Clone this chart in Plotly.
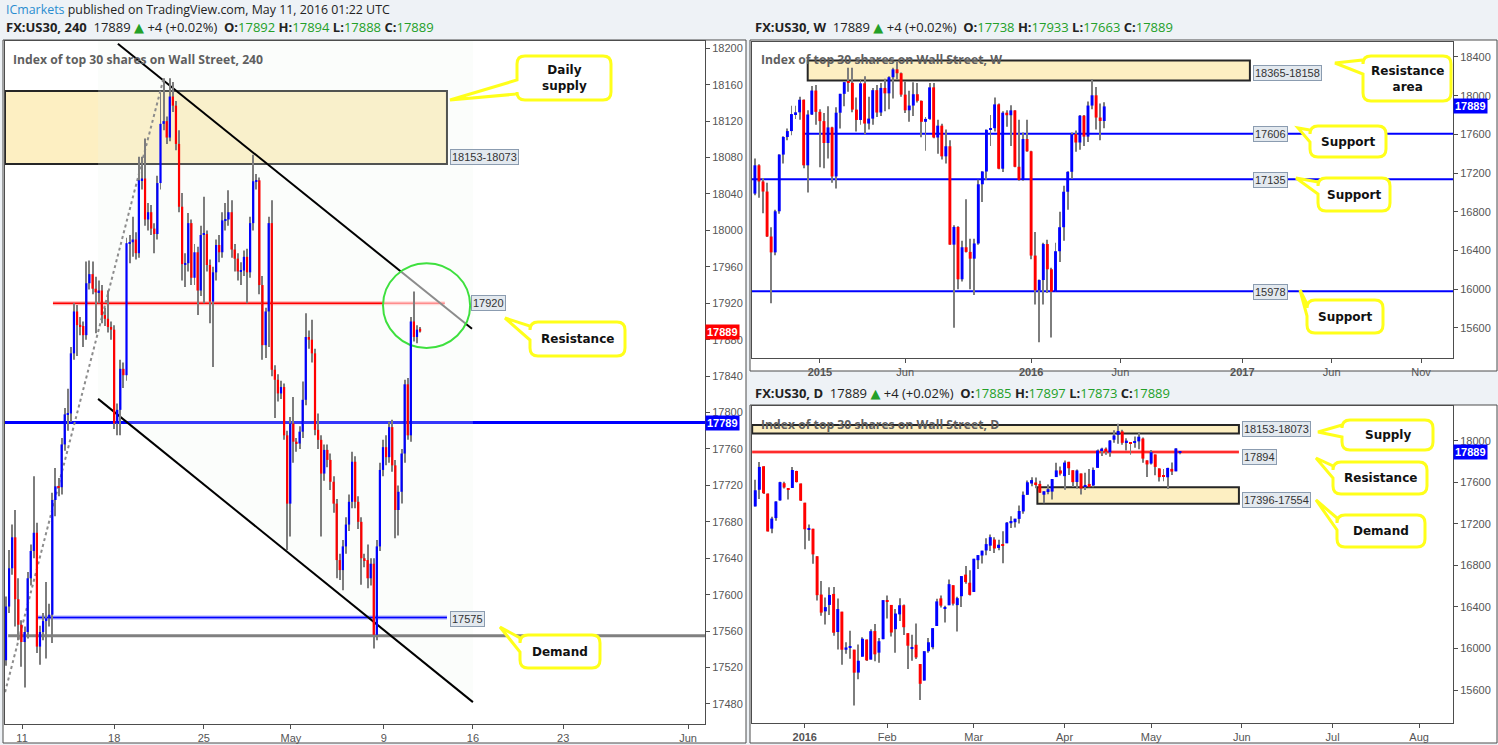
import plotly.graph_objects as go

W, H = 1498, 745

# ---------------- 4H panel data (FX:US30, 240) ----------------
h4_open = [17528,17587,17629,17663,17595,17567,17548,17559,17618,17648,17668,17543,17559,17571,17574,17578,17704,17719,17718,17765,
           17798,17799,17865,17911,17896,17895,17885,17942,17952,17936,17932,17934,17907,17903,17894,17891,17788,17803,17848,17841,
           17986,17987,17990,17975,18055,18057,18012,18020,18002,17996,18052,18117,18120,18102,18147,18137,18095,18026,17963,17964,
           18008,17948,17976,17934,17995,17996,17962,17922,17954,17984,17976,18011,18012,18020,17979,17969,17955,17956,17971,17954,
           18008,18054,18055,17940,17874,17911,18008,17847,17836,17821,17828,17775,17700,17788,17768,17766,17779,17814,17883,17880,
           17865,17781,17770,17733,17759,17748,17724,17700,17638,17627,17653,17677,17702,17746,17702,17680,17640,17638,17618,17634,
           17556,17653,17737,17762,17751,17784,17742,17693,17713,17755,17831,17775,17900,17883,17892]
h4_high = [17598,17649,17677,17693,17618,17572,17565,17625,17655,17730,17679,17566,17580,17614,17590,17712,17739,17728,17772,17805,
           17826,17872,17920,17918,17905,17900,17966,17967,17966,17949,17945,17940,17915,17934,17900,17896,17810,17858,17855,17992,
           17995,18015,17998,18081,18081,18101,18030,18028,18008,18060,18151,18167,18125,18167,18163,18142,18110,18041,17975,18019,
           18012,17985,17982,18005,18037,18000,17968,17960,17990,17995,18020,18030,18044,18033,17985,17975,17965,17978,17980,18015,
           18083,18062,18058,17950,17915,18015,18033,17852,17842,17835,17832,17780,17795,17817,17772,17785,17834,17909,17890,17902,
           17870,17799,17775,17765,17765,17755,17730,17705,17645,17660,17685,17710,17757,17752,17708,17685,17645,17655,17640,17640,
           17660,17745,17770,17775,17790,17792,17748,17720,17760,17836,17838,17905,17933,17896,17894]
h4_low = [17522,17580,17622,17565,17550,17521,17498,17552,17610,17640,17536,17523,17550,17530,17565,17547,17686,17708,17710,17758,
          17780,17790,17858,17862,17885,17872,17880,17935,17930,17887,17920,17898,17895,17888,17880,17782,17775,17775,17827,17835,
          17964,17971,17968,17970,18045,18005,18000,17995,17975,17990,18045,18110,18095,18098,18130,18088,18020,17945,17938,17955,
          17940,17940,17907,17928,17920,17955,17898,17850,17945,17965,17970,18000,18005,17970,17955,17945,17940,17950,17920,17948,
          18000,18045,17930,17858,17860,17872,17840,17794,17812,17815,17770,17649,17664,17745,17757,17760,17772,17808,17870,17855,
          17775,17760,17664,17725,17740,17715,17690,17618,17616,17605,17645,17670,17695,17695,17672,17611,17630,17607,17610,17541,
          17550,17648,17730,17742,17745,17735,17662,17665,17700,17745,17770,17768,17878,17876,17888]
h4_close = [17587,17629,17663,17595,17567,17548,17559,17618,17648,17668,17543,17559,17571,17574,17578,17704,17719,17718,17765,17798,
            17799,17865,17911,17896,17895,17885,17942,17952,17936,17932,17934,17907,17903,17894,17891,17788,17803,17848,17841,17986,
            17987,17990,17975,18055,18057,18012,18020,18002,17996,18052,18117,18120,18102,18147,18137,18095,18026,17963,17964,18008,
            17948,17976,17934,17995,17996,17962,17922,17954,17984,17976,18011,18012,18020,17979,17969,17955,17956,17971,17954,18008,
            18054,18055,17940,17874,17911,18008,17847,17836,17821,17828,17775,17700,17788,17768,17766,17779,17814,17883,17880,17865,
            17781,17770,17733,17759,17748,17724,17700,17638,17627,17653,17677,17702,17746,17702,17680,17640,17638,17618,17634,17556,
            17653,17737,17762,17751,17784,17742,17693,17713,17755,17831,17775,17900,17883,17891,17889]
h4_tick_text = ["11", "18", "25", "May", "9", "16", "23", "Jun"]
h4_supply = [18073, 18153]
h4_resistance = 17920
h4_blue_level = 17789
h4_demand_line = 17575
h4_grey_level = 17555
h4_channel_upper = [(36.2, 18205), (150.8, 17892)]
h4_channel_lower = [(29.8, 17815), (151.1, 17482)]
h4_dotted = [(-0.3, 17493), (51, 18167)]

# ---------------- Weekly panel data ----------------
w_dates = ["2014-09-15","2014-09-22","2014-09-29","2014-10-06","2014-10-13","2014-10-20","2014-10-27","2014-11-03","2014-11-10","2014-11-17",
           "2014-11-24","2014-12-01","2014-12-08","2014-12-15","2014-12-22","2014-12-29","2015-01-05","2015-01-12","2015-01-19","2015-01-26",
           "2015-02-02","2015-02-09","2015-02-16","2015-02-23","2015-03-02","2015-03-09","2015-03-16","2015-03-23","2015-03-30","2015-04-06",
           "2015-04-13","2015-04-20","2015-04-27","2015-05-04","2015-05-11","2015-05-18","2015-05-25","2015-06-01","2015-06-08","2015-06-15",
           "2015-06-22","2015-06-29","2015-07-06","2015-07-13","2015-07-20","2015-07-27","2015-08-03","2015-08-10","2015-08-17","2015-08-24",
           "2015-08-31","2015-09-07","2015-09-14","2015-09-21","2015-09-28","2015-10-05","2015-10-12","2015-10-19","2015-10-26","2015-11-02",
           "2015-11-09","2015-11-16","2015-11-23","2015-11-30","2015-12-07","2015-12-14","2015-12-21","2015-12-28","2016-01-04","2016-01-11",
           "2016-01-18","2016-01-25","2016-02-01","2016-02-08","2016-02-15","2016-02-22","2016-02-29","2016-03-07","2016-03-14","2016-03-21",
           "2016-03-28","2016-04-04","2016-04-11","2016-04-18","2016-04-25","2016-05-02","2016-05-09"]
w_open = [16988,17280,17113,17009,16544,16380,16805,17391,17573,17634,17810,17828,17958,17280,17805,18053,17833,17737,17511,17672,
          17165,17824,18019,18140,18133,17856,17749,18128,17712,17763,18057,17826,18080,18024,18191,18272,18232,18011,17849,17898,
          18015,17947,17730,17760,18086,17568,17690,17373,17477,16460,16643,16102,16433,16385,16315,16472,17084,17216,17647,17664,
          17910,17245,17824,17798,17848,17265,17128,17552,17425,16347,15988,16094,16466,16205,15974,16392,16640,17007,17213,17602,
          17516,17793,17577,17898,18004,17774,17738]
w_high = [17350,17290,17150,17100,16640,16820,17395,17580,17660,17895,17895,17990,17960,17850,18100,18110,17860,17820,17890,17680,
          17880,18020,18140,18290,18290,17980,18170,18200,17990,18080,18110,18130,18175,18200,18290,18350,18240,18150,18050,18140,
          18130,17950,17780,18130,18130,17750,17710,17650,17540,16660,16650,16500,16930,16520,16520,17130,17220,17650,17800,17980,
          17920,17840,17850,17900,17850,17750,17620,17750,17430,16590,16100,16480,16510,16220,16480,16800,17070,17220,17620,17640,
          17800,17800,17940,18170,18090,17920,17933]
w_low = [16970,16945,16784,16540,15855,16350,16780,17300,17540,17590,17760,17750,17250,17000,17800,17700,17260,17250,17350,17100,
         17040,17660,17890,18040,17830,17630,17700,17600,17650,17700,17780,17790,17840,17860,17970,18170,17990,17820,17730,17790,
         17930,17570,17430,17750,17560,17400,17340,17300,16460,15600,16000,16080,16380,16000,15940,16460,16900,17130,17480,17630,
         17240,17210,17680,17480,17260,17120,17120,17420,16310,15840,15450,15840,15960,15500,15970,16280,16500,16820,17140,17420,
         17440,17480,17520,17860,17650,17540,17663]
w_close = [17280,17113,17009,16544,16380,16805,17391,17573,17634,17810,17828,17958,17280,17805,18053,17833,17737,17511,17672,17165,
           17824,18019,18140,18133,17856,17749,18128,17712,17763,18057,17826,18080,18024,18191,18272,18232,18011,17849,17898,18015,
           17947,17730,17760,18086,17568,17690,17373,17477,16460,16643,16102,16433,16385,16315,16472,17084,17216,17647,17664,17910,
           17245,17824,17798,17848,17265,17128,17552,17425,16347,15988,16094,16466,16205,15974,16392,16640,17007,17213,17602,17516,
           17793,17577,17898,18004,17774,17738,17889]
w_tick_dates = ["2015-01-05","2015-06-01","2016-01-04","2016-06-06","2017-01-02","2017-06-05","2017-11-06"]
w_tick_text = ["<b>2015</b>","Jun","<b>2016</b>","Jun","<b>2017</b>","Jun","Nov"]
w_resistance_area = [18158, 18365]
w_supports = [17606, 17135, 15978]

# ---------------- Daily panel data ----------------
d_dates = ["2015-12-15","2015-12-16","2015-12-17","2015-12-18","2015-12-21","2015-12-22","2015-12-23","2015-12-24","2015-12-28","2015-12-29","2015-12-30","2015-12-31",
           "2016-01-04","2016-01-05","2016-01-06","2016-01-07","2016-01-08","2016-01-11","2016-01-12","2016-01-13","2016-01-14","2016-01-15",
           "2016-01-18","2016-01-19","2016-01-20","2016-01-21","2016-01-22","2016-01-25","2016-01-26","2016-01-27","2016-01-28","2016-01-29",
           "2016-02-01","2016-02-02","2016-02-03","2016-02-04","2016-02-05","2016-02-08","2016-02-09","2016-02-10","2016-02-11","2016-02-12",
           "2016-02-15","2016-02-16","2016-02-17","2016-02-18","2016-02-19","2016-02-22","2016-02-23","2016-02-24","2016-02-25","2016-02-26","2016-02-29",
           "2016-03-01","2016-03-02","2016-03-03","2016-03-04","2016-03-07","2016-03-08","2016-03-09","2016-03-10","2016-03-11","2016-03-14","2016-03-15",
           "2016-03-16","2016-03-17","2016-03-18","2016-03-21","2016-03-22","2016-03-23","2016-03-24","2016-03-28","2016-03-29","2016-03-30","2016-03-31",
           "2016-04-01","2016-04-04","2016-04-05","2016-04-06","2016-04-07","2016-04-08","2016-04-11","2016-04-12","2016-04-13","2016-04-14","2016-04-15",
           "2016-04-18","2016-04-19","2016-04-20","2016-04-21","2016-04-22","2016-04-25","2016-04-26","2016-04-27","2016-04-28","2016-04-29",
           "2016-05-02","2016-05-03","2016-05-04","2016-05-05","2016-05-06","2016-05-09","2016-05-10","2016-05-11"]
d_open = [17369,17530,17756,17493,17155,17257,17427,17593,17536,17547,17711,17590,
          17405,17147,17154,16889,16520,16358,16420,16526,16159,16355,15988,16009,15989,15768,15921,16086,15893,16168,15960,16090,
          16451,16420,16186,16329,16417,16148,15997,16036,15850,15691,15974,16012,16217,16483,16389,16417,16610,16418,16504,16712,16634,
          16545,16851,16896,16945,16991,17050,16969,17006,17014,17207,17217,17249,17321,17481,17590,17600,17586,17482,17516,17512,17652,17716,
          17661,17799,17718,17605,17687,17555,17586,17571,17741,17912,17925,17890,18012,18059,18092,17985,17990,17987,17996,18023,17813,
          17783,17870,17735,17665,17650,17731,17707,17885]
d_high = [17627,17797,17756,17493,17270,17420,17608,17606,17536,17750,17714,17590,
          17405,17195,17154,16889,16651,16491,16591,16593,16482,16355,16060,16171,15989,16038,16109,16086,16185,16235,16102,16466,
          16510,16420,16381,16485,16423,16148,16133,16242,15850,15974,16100,16196,16480,16511,16413,16664,16610,16499,16698,16795,16754,
          16865,16900,16943,17062,17099,17072,17048,17130,17220,17275,17251,17379,17513,17620,17650,17649,17616,17515,17580,17633,17790,17755,
          17811,17799,17718,17725,17687,17694,17731,17744,17918,17934,17937,18009,18103,18167,18107,18026,17990,18043,18084,18033,17813,
          17914,17870,17736,17729,17741,17792,17929,17897]
d_low = [17369,17440,17490,17128,17110,17230,17425,17543,17437,17547,17599,17421,
         16957,17039,16817,16463,16315,16232,16322,16123,15991,15843,15950,15900,15450,15704,15921,15880,15893,15878,15863,16090,
         16289,16115,15960,16266,16129,15803,15881,15899,15503,15691,15960,15993,16217,16394,16250,16417,16414,16165,16401,16623,16510,
         16545,16766,16820,16898,16940,16921,16947,16821,17014,17161,17165,17204,17298,17481,17564,17545,17498,17400,17486,17437,17652,17668,
         17530,17673,17556,17542,17484,17528,17555,17553,17741,17856,17867,17848,17984,17974,17963,17909,17866,17934,17920,17791,17652,
         17773,17670,17609,17611,17536,17672,17707,17873]
d_close = [17525,17750,17495,17128,17252,17417,17603,17552,17528,17720,17603,17425,
           17149,17158,16907,16514,16346,16399,16516,16152,16380,15988,16010,16016,15767,15882,16094,15886,16167,15944,16070,16466,
           16449,16154,16337,16417,16205,16027,16014,15914,15660,15974,16060,16196,16454,16413,16392,16620,16432,16485,16698,16640,16517,
           16865,16900,16943,17006,17073,16964,17000,16995,17213,17229,17251,17325,17481,17602,17623,17582,17502,17515,17535,17633,17716,17685,
           17792,17737,17603,17716,17541,17576,17556,17721,17908,17926,17897,18004,18053,18096,17982,18003,17977,17990,18041,17830,17774,
           17891,17750,17651,17660,17740,17705,17928,17889]
d_tick_dates = ["2016-01-04","2016-02-01","2016-03-01","2016-04-01","2016-05-02","2016-06-01","2016-07-01","2016-08-01"]
d_tick_text = ["<b>2016</b>","Feb","Mar","Apr","May","Jun","Jul","Aug"]
d_supply = [18073, 18153]
d_resistance = 17894
d_demand = [17396, 17554]
last_price = 17889

# ---------------- helpers ----------------
def PX(x):
    return x / W

def PY(y):
    return 1 - y / H

BLUE = "#0000ff"
RED = "#ff0000"
WICK = "#7d7d7d"
AXIS_FONT = dict(family="Liberation Sans, Arial", size=11, color="#555555")

fig = go.Figure()


def add_candles(x, o, h, l, c, xa, ya, body_w, wick_w, min_body):
    cols = [BLUE if cc >= oo else RED for oo, cc in zip(o, c)]
    fig.add_trace(go.Bar(x=x, y=[hh - ll for hh, ll in zip(h, l)], base=l, width=wick_w,
                         marker=dict(color=WICK, line=dict(width=0)), xaxis=xa, yaxis=ya,
                         hoverinfo="skip", showlegend=False))
    fig.add_trace(go.Bar(x=x, y=[max(abs(cc - oo), min_body) for oo, cc in zip(o, c)],
                         base=[min(oo, cc) for oo, cc in zip(o, c)], width=body_w,
                         marker=dict(color=cols, line=dict(width=0)), xaxis=xa, yaxis=ya,
                         hoverinfo="skip", showlegend=False))


h4_x = list(range(len(h4_close)))
add_candles(h4_x, h4_open, h4_high, h4_low, h4_close, "x", "y", 0.72, 0.32, 1.3)
DAY = 86400000
add_candles(w_dates, w_open, w_high, w_low, w_close, "x2", "y2", 5.0 * DAY, 1.6 * DAY, 10)
add_candles(d_dates, d_open, d_high, d_low, d_close, "x3", "y3", 0.72 * DAY, 0.24 * DAY, 10)

shapes = []
annotations = []

# panel backgrounds
for (x0, y0, x1, y1) in [(3, 40, 746, 743), (750, 40, 1497, 371), (750, 405, 1497, 743)]:
    shapes.append(dict(type="rect", xref="paper", yref="paper", x0=PX(x0), x1=PX(x1), y0=PY(y1), y1=PY(y0),
                       fillcolor="white", line=dict(color="#4d4d4d", width=1), layer="below"))

# ---- 4H drawings ----
h4_box_end = 142.7
shapes.append(dict(type="path", xref="x", yref="y",
                   path=f"M {h4_channel_lower[0][0]},18210 L {h4_channel_lower[1][0]},18210 L {h4_channel_lower[1][0]},{h4_channel_lower[1][1]} L {h4_channel_lower[0][0]},{h4_channel_lower[0][1]} Z",
                   fillcolor="rgba(236,244,236,0.22)", line=dict(width=0), layer="below"))
shapes.append(dict(type="rect", xref="x domain", yref="y", x0=0, x1=(h4_box_end + 0.32) / 226.52, y0=h4_supply[0], y1=h4_supply[1],
                   fillcolor="#fdefc2", line=dict(color="#262626", width=2), layer="below"))
shapes.append(dict(type="line", xref="x", yref="y", x0=15.2, x1=142, y0=h4_resistance, y1=h4_resistance,
                   line=dict(color="rgba(255,80,80,0.45)", width=4), layer="below"))
shapes.append(dict(type="line", xref="x", yref="y", x0=15.2, x1=142, y0=h4_resistance, y1=h4_resistance,
                   line=dict(color=RED, width=1.5), layer="below"))
shapes.append(dict(type="line", xref="x domain", yref="y", x0=0, x1=1, y0=h4_blue_level, y1=h4_blue_level,
                   line=dict(color=BLUE, width=3), layer="below"))
shapes.append(dict(type="line", xref="x", yref="y", x0=10.4, x1=h4_box_end, y0=h4_demand_line, y1=h4_demand_line,
                   line=dict(color="rgba(60,60,255,0.45)", width=4), layer="below"))
shapes.append(dict(type="line", xref="x", yref="y", x0=10.4, x1=h4_box_end, y0=h4_demand_line, y1=h4_demand_line,
                   line=dict(color=BLUE, width=1.5), layer="below"))
shapes.append(dict(type="line", xref="x", yref="y", x0=0.7, x1=226.2, y0=h4_grey_level, y1=h4_grey_level,
                   line=dict(color="#808080", width=3), layer="below"))
for seg in (h4_channel_upper, h4_channel_lower):
    shapes.append(dict(type="line", xref="x", yref="y", x0=seg[0][0], y0=seg[0][1], x1=seg[1][0], y1=seg[1][1],
                       line=dict(color="#000000", width=2), layer="below"))
shapes.append(dict(type="line", xref="x", yref="y", x0=h4_dotted[0][0], y0=h4_dotted[0][1], x1=h4_dotted[1][0], y1=h4_dotted[1][1],
                   line=dict(color="#8c8c8c", width=2, dash="dot"), layer="below"))
shapes.append(dict(type="circle", xref="x", yref="y", x0=122, x1=150.2, y0=17871, y1=17964,
                   fillcolor="rgba(255,255,255,0.55)", line=dict(color="#3ee03e", width=2), layer="below"))

# ---- Weekly drawings ----
shapes.append(dict(type="rect", xref="x2", yref="y2", x0="2014-12-15", x1="2017-01-15", y0=w_resistance_area[0], y1=w_resistance_area[1],
                   fillcolor="#fdefc2", line=dict(color="#262626", width=2), layer="below"))
shapes.append(dict(type="line", xref="x2", yref="y2", x0="2014-12-10", x1="2017-12-31", y0=w_supports[0], y1=w_supports[0],
                   line=dict(color=BLUE, width=2), layer="below"))
for lv in w_supports[1:]:
    shapes.append(dict(type="line", xref="x2 domain", yref="y2", x0=0, x1=1, y0=lv, y1=lv,
                       line=dict(color=BLUE, width=2), layer="below"))

# ---- Daily drawings ----
shapes.append(dict(type="rect", xref="x3", yref="y3", x0="2015-12-14 06:00", x1="2016-05-31 07:00", y0=d_supply[0], y1=d_supply[1],
                   fillcolor="#fdefc2", line=dict(color="#262626", width=2), layer="below"))
shapes.append(dict(type="line", xref="x3", yref="y3", x0="2015-12-14 06:00", x1="2016-05-31 07:00", y0=d_resistance, y1=d_resistance,
                   line=dict(color="rgba(255,80,80,0.45)", width=4), layer="below"))
shapes.append(dict(type="line", xref="x3", yref="y3", x0="2015-12-14 06:00", x1="2016-05-31 07:00", y0=d_resistance, y1=d_resistance,
                   line=dict(color=RED, width=1.5), layer="below"))
shapes.append(dict(type="rect", xref="x3", yref="y3", x0="2016-03-22 10:00", x1="2016-05-31 07:00", y0=d_demand[0], y1=d_demand[1],
                   fillcolor="#fdefc2", line=dict(color="#262626", width=2), layer="below"))

# ---- level tags ----
TAG = dict(showarrow=False, bgcolor="#e3e9ef", bordercolor="#8b9cb0", borderwidth=1, borderpad=1,
           font=dict(family="Liberation Sans, Arial", size=11, color="#333333"), xanchor="left", yanchor="middle")
annotations += [
    dict(xref="x", yref="y", x=143.6, y=18081, text=f"{h4_supply[1]}-{h4_supply[0]}", **TAG),
    dict(xref="x", yref="y", x=150.6, y=h4_resistance, text=f"{h4_resistance}", **TAG),
    dict(xref="x", yref="y", x=143.6, y=17573, text=f"{h4_demand_line}", **TAG),
    dict(xref="x2", yref="y2", x="2017-01-20", y=18230, text=f"{w_resistance_area[1]}-{w_resistance_area[0]}", **TAG),
    dict(xref="x2", yref="y2", x="2017-01-20", y=w_supports[0] - 5, text=f"{w_supports[0]}", **TAG),
    dict(xref="x2", yref="y2", x="2017-01-20", y=w_supports[1] - 5, text=f"{w_supports[1]}", **TAG),
    dict(xref="x2", yref="y2", x="2017-01-20", y=w_supports[2] - 5, text=f"{w_supports[2]}", **TAG),
    dict(xref="x3", yref="y3", x="2016-06-01", y=18113, text=f"{d_supply[1]}-{d_supply[0]}", **TAG),
    dict(xref="x3", yref="y3", x="2016-06-01", y=d_resistance - 50, text=f"{d_resistance}", **TAG),
    dict(xref="x3", yref="y3", x="2016-06-01", y=17430, text=f"{d_demand[0]}-{d_demand[1]}", **TAG),
]

# ---- axis price tags ----
PTAG = dict(showarrow=False, borderpad=1, font=dict(family="Liberation Sans, Arial", size=11, color="white"),
            xanchor="left", yanchor="middle", x=1.0)
annotations += [
    dict(xref="x domain", yref="y", y=last_price, text=f"<b>{last_price}</b>", bgcolor=RED, **PTAG),
    dict(xref="x domain", yref="y", y=h4_blue_level, text=f"<b>{h4_blue_level}</b>", bgcolor=BLUE, **PTAG),
    dict(xref="x2 domain", yref="y2", y=last_price, text=f"<b>{last_price}</b>", bgcolor=BLUE, **PTAG),
    dict(xref="x3 domain", yref="y3", y=last_price, text=f"<b>{last_price}</b>", bgcolor=BLUE, **PTAG),
]

# ---- titles / headers ----
G = "#23a028"
def hdr(sym, o, h, l, c):
    return (f"<b>{sym}</b>  17889 <span style='color:{G}'>▲</span> +4 (+0.02%)  "
            f"<b>O:</b><span style='color:{G}'>{o}</span> <b>H:</b><span style='color:{G}'>{h}</span> "
            f"<b>L:</b><span style='color:{G}'>{l}</span> <b>C:</b><span style='color:{G}'>{c}</span>")

HF = dict(family="Open Sans, DejaVu Sans", size=13, color="#222222")
HF1 = dict(family="Open Sans, DejaVu Sans", size=12.4, color="#222222")
annotations += [
    dict(xref="paper", yref="paper", x=PX(4), y=PY(10), xanchor="left", yanchor="middle", showarrow=False, font=HF1,
         text="<span style='color:#2a8dd0'>ICmarkets</span> published on TradingView.com, May 11, 2016 01:22 UTC"),
    dict(xref="paper", yref="paper", x=PX(4), y=PY(27), xanchor="left", yanchor="middle", showarrow=False, font=HF,
         text=hdr("FX:US30, 240", 17892, 17894, 17888, 17889)),
    dict(xref="paper", yref="paper", x=PX(753), y=PY(27), xanchor="left", yanchor="middle", showarrow=False, font=HF,
         text=hdr("FX:US30, W", 17738, 17933, 17663, 17889)),
    dict(xref="paper", yref="paper", x=PX(753), y=PY(393), xanchor="left", yanchor="middle", showarrow=False, font=HF,
         text=hdr("FX:US30, D", 17885, 17897, 17873, 17889)),
]
TF = dict(family="Open Sans, DejaVu Sans", size=12.2, color="#5f5f5f")
for (x, y, t) in [(11, 59, "Index of top 30 shares on Wall Street, 240"),
                  (759, 59, "Index of top 30 shares on Wall Street, W"),
                  (759, 424, "Index of top 30 shares on Wall Street, D")]:
    annotations.append(dict(xref="paper", yref="paper", x=PX(x), y=PY(y), xanchor="left", yanchor="middle",
                            showarrow=False, font=TF, text=f"<b>{t}</b>"))


# ---- callouts ----
def callout(box, tip, wedge, text):
    x0, y0, x1, y1 = box
    tx, ty = tip
    wa, wb = wedge
    r = 8
    def p(x, y):
        return f"{PX(x):.6f},{PY(y):.6f}"
    path = (f"M {p(x0 + r, y0)} L {p(x1 - r, y0)} Q {p(x1, y0)} {p(x1, y0 + r)} "
            f"L {p(x1, y1 - r)} Q {p(x1, y1)} {p(x1 - r, y1)} L {p(x0 + r, y1)} Q {p(x0, y1)} {p(x0, y1 - r)} "
            f"L {p(x0, wb)} L {p(tx, ty)} L {p(x0, wa)} L {p(x0, y0 + r)} Q {p(x0, y0)} {p(x0 + r, y0)} Z")
    shapes.append(dict(type="path", xref="paper", yref="paper", path=path, fillcolor="white",
                       line=dict(color="#ffff1a", width=3), layer="above"))
    annotations.append(dict(xref="paper", yref="paper", x=PX((x0 + x1) / 2), y=PY((y0 + y1) / 2),
                            xanchor="center", yanchor="middle", showarrow=False, text=f"<b>{text}</b>",
                            font=dict(family="DejaVu Sans", size=12, color="#111111")))


callout((517, 56, 611, 100), (450, 100), (80, 94), "Daily<br>supply")
callout((530, 322, 625, 356), (505, 318), (326, 340), "Resistance")
callout((520, 635, 600, 668), (500, 627), (638, 652), "Demand")
callout((1363, 56, 1451, 101), (1335, 63), (60, 74), "Resistance<br>area")
callout((1310, 126, 1386, 157), (1298, 128), (130, 142), "Support")
callout((1318, 178, 1390, 211), (1296, 178), (182, 194), "Support")
callout((1307, 300, 1383, 333), (1300, 290), (304, 316), "Support")
callout((1342, 420, 1433, 450), (1318, 432), (425, 437), "Supply")
callout((1333, 462, 1427, 494), (1316, 458), (466, 478), "Resistance")
callout((1337, 515, 1425, 547), (1316, 500), (518, 530), "Demand")

# ---- axes ----
def xax(domain, anchor, **kw):
    d = dict(domain=domain, anchor=anchor, showgrid=False, zeroline=False, showline=True, mirror=True,
             linecolor="#4d4d4d", linewidth=1, ticks="outside", ticklen=4, tickcolor="#4d4d4d",
             tickfont=AXIS_FONT, fixedrange=True)
    d.update(kw)
    return d

def yax(domain, anchor, rng, dtick):
    return dict(domain=domain, anchor=anchor, range=rng, side="right", dtick=dtick, showgrid=False, zeroline=False,
                showline=True, mirror=True, linecolor="#4d4d4d", linewidth=1, ticks="outside", ticklen=4,
                tickcolor="#4d4d4d", tickfont=AXIS_FONT, tickformat="d", fixedrange=True)

h4_tick_pos = [5.2, 35, 64, 92.2, 122.3, 151.1, 180.3, 220.7]

fig.update_layout(
    width=W, height=H, margin=dict(l=0, r=0, t=0, b=0),
    paper_bgcolor="#eef2f6", plot_bgcolor="white", barmode="overlay", showlegend=False,
    xaxis=xax([PX(5), PX(705)], "y", range=[-0.32, 226.2], tickmode="array", tickvals=h4_tick_pos, ticktext=h4_tick_text),
    yaxis=yax([PY(724), PY(41)], "x", [17458, 18208], 40),
    xaxis2=xax([PX(752), PX(1453)], "y2", type="date", range=["2014-09-10", "2017-12-31"], tickmode="array",
               tickvals=w_tick_dates, ticktext=w_tick_text),
    yaxis2=yax([PY(358), PY(42)], "x2", [15288, 18555], 400),
    xaxis3=xax([PX(752), PX(1453)], "y3", type="date", range=["2015-12-14 05:00", "2016-08-11 05:00"], tickmode="array",
               tickvals=d_tick_dates, ticktext=d_tick_text,
               rangebreaks=[dict(bounds=["sat", "mon"]), dict(values=["2015-12-25", "2016-01-01", "2016-03-25"])]),
    yaxis3=yax([PY(723), PY(406)], "x3", [15282, 18337], 400),
    shapes=shapes, annotations=annotations,
)

fig.write_html("out.html", config={"displayModeBar": False},
               post_script="document.body.style.margin='0px';document.body.style.overflow='hidden';")
